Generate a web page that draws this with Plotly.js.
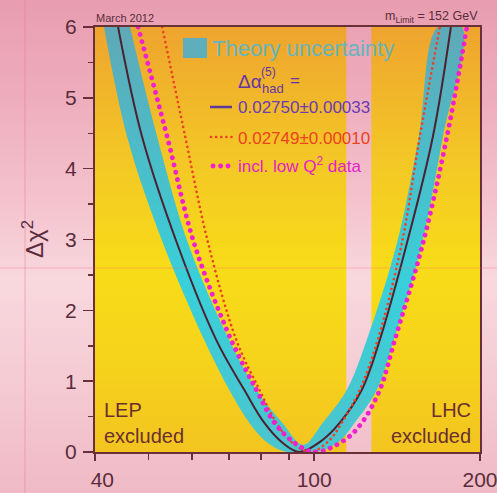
<!DOCTYPE html>
<html><head><meta charset="utf-8">
<script src="https://cdn.plot.ly/plotly-3.0.1.min.js"></script>
<style>
html,body{margin:0;padding:0;}
body{width:497px;height:493px;overflow:hidden;background:linear-gradient(to bottom,#e89db0 0%,#eeadbd 20%,#f4c4cf 42%,#f8d8de 57%,#f5ccd5 75%,#efbac6 100%);}
#chart{width:497px;height:493px;}
path[style*="stroke-dasharray"]{stroke-linecap:round;}
</style></head><body><div id="chart"></div>
<script>
// ---- data ----
const massRange = [40, 200];
const chi2Range = [0, 6];
const xTickVals = [40, 100, 200];
const xTickText = ['\u2002\u200940', '100', '200'];
const xMinorVals = [50, 60, 70, 80, 90];
const yTickVals = [0, 1, 2, 3, 4, 5, 6];

const lepExcluded = [40, 114.4];
const lhcExcluded = [127, 600];

const massSolid = [44.05, 48.70, 56.40, 66.42, 74.69, 81.21, 87.60, 94.0, 103.57, 111.23, 121.97, 131.52, 147.26, 164.22, 177.08];
const chi2Solid = [6.0, 4.45, 2.94, 1.58, 0.875, 0.41, 0.13, 0.0, 0.17, 0.41, 0.875, 1.58, 2.94, 4.45, 6.0];

const massRed = [52.97, 58.33, 64.23, 72.23, 79.56, 85.44, 91.33, 98.5, 106.66, 112.17, 120.95, 130.42, 144.2, 155.5, 169.1];
const chi2Red = [6.0, 4.45, 2.94, 1.58, 0.875, 0.41, 0.13, 0.0, 0.17, 0.41, 0.875, 1.58, 2.94, 4.45, 6.0];

const massMag = [47.89, 54.09, 60.57, 70.71, 78.56, 84.73, 92.10, 100.6, 113.59, 121.97, 131.52, 140.05, 157.48, 174.14, 189.38];
const chi2Mag = [6.0, 4.45, 2.94, 1.58, 0.875, 0.41, 0.13, 0.0, 0.17, 0.41, 0.875, 1.58, 2.94, 4.45, 6.0];

const bandOuterMass = [41.54, 45.74, 53.19, 63.16, 70.13, 76.27, 82.25, 89.08, 101.0, 110.3, 118.4, 129.88, 139.47, 156.82, 171.25, 185.45];
const bandOuterChi2 = [6.0, 4.45, 2.94, 1.58, 0.875, 0.41, 0.13, 0.0, 0.0, 0.13, 0.41, 0.875, 1.58, 2.94, 4.45, 6.0];
const bandInnerMass = [46.32, 51.87, 59.06, 70.13, 78.56, 87.60, 95.5, 103.57, 114.55, 124.56, 141.23, 154.87, 167.69];
const bandInnerChi2 = [6.0, 4.45, 2.94, 1.58, 0.875, 0.41, 0.1, 0.41, 0.875, 1.58, 2.94, 4.45, 6.0];

// ---- build ----
const axisCol = '#6a3038';
const textCol = '#5b2d3c';
const FONT = 'Liberation Sans, Arial, sans-serif';

const yellowGrad = {type: 'vertical', colorscale: [[0, '#f3c420'], [0.2, '#f6d21c'], [0.43, '#f8dc18'], [0.7, '#f3c626'], [1, '#eea42f']]};
const bandGrad = {type: 'vertical', colorscale: [[0, '#4cc4cd'], [0.4, '#38d0da'], [0.7, '#4cbcc8'], [1, '#60a8b6']]};

function rect(r) {
  return {x: [r[0], r[1], r[1], r[0]], y: [chi2Range[0], chi2Range[0], chi2Range[1], chi2Range[1]],
    type: 'scatter', mode: 'lines', fill: 'toself', fillgradient: yellowGrad,
    line: {width: 0}, hoverinfo: 'skip', showlegend: false};
}

const traces = [
  rect(lepExcluded),
  rect(lhcExcluded),
  {x: bandOuterMass.concat(bandInnerMass.slice().reverse()),
   y: bandOuterChi2.concat(bandInnerChi2.slice().reverse()),
   type: 'scatter', mode: 'lines', fill: 'toself', fillgradient: bandGrad,
   line: {width: 0, shape: 'spline', smoothing: 1}, hoverinfo: 'skip', showlegend: false},
  {x: massSolid, y: chi2Solid, type: 'scatter', mode: 'lines',
   line: {color: '#4a2232', width: 2, shape: 'spline', smoothing: 1}, showlegend: false},
  {x: massRed, y: chi2Red, type: 'scatter', mode: 'lines',
   line: {color: '#ee4020', width: 2.6, dash: '0.1px,5px', shape: 'spline', smoothing: 1}, showlegend: false},
  {x: massMag, y: chi2Mag, type: 'scatter', mode: 'lines',
   line: {color: '#f020d0', width: 4.8, dash: '0.1px,7.4px', shape: 'spline', smoothing: 1}, showlegend: false}
];

// pixel helpers for paper coords (plot area 95..480 x 27..452)
const px = v => (v - 95) / 385;
const py = v => (452 - v) / 425;

function ann(text, x, y, size, color, extra) {
  return Object.assign({text: text, x: x, y: y, xref: 'paper', yref: 'paper', showarrow: false,
    xanchor: 'left', yanchor: 'middle', font: {family: FONT, size: size, color: color}}, extra || {});
}

const annotations = [
  ann('Theory uncertainty', px(210), py(48), 22, '#66b4bf'),
  ann('Δα', px(236), py(81), 19, '#6535a8'),
  ann('(5)', px(259), py(72), 12, '#6535a8'),
  ann('had', px(260), py(88), 13, '#6535a8'),
  ann('=', px(288), py(80), 17, '#6535a8'),
  ann('0.02750±0.00033', px(236), py(108), 17, '#6a3cb0'),
  ann('0.02749±0.00010', px(236), py(138), 17, '#ec4220'),
  ann('incl. low Q<sup>2</sup> data', px(236), py(165), 17, '#e422c8'),
  ann('March 2012', px(94), py(18), 11, textCol),
  ann('m<sub>Limit</sub> = 152 GeV', 1, py(17), 12.5, textCol, {xanchor: 'right'}),
  ann('Δχ<sup>2</sup>', px(33), py(239), 24, textCol, {xanchor: 'center', textangle: -90}),
  ann('LEP<br>excluded', px(102), py(449), 20, '#6a3030', {yanchor: 'bottom', align: 'left'}),
  ann('LHC<br>excluded', px(473), py(449), 20, '#6a3030', {xanchor: 'right', yanchor: 'bottom', align: 'right'})
];

const shapes = [
  {type: 'rect', xref: 'paper', yref: 'paper', x0: px(183), x1: px(207), y0: py(58), y1: py(38),
   fillcolor: '#5eaebb', line: {width: 0}},
  {type: 'line', xref: 'paper', yref: 'paper', x0: px(210), x1: px(232), y0: py(107), y1: py(107),
   line: {color: '#5b3a9c', width: 2.5}},
  {type: 'line', xref: 'paper', yref: 'paper', x0: px(211), x1: px(232), y0: py(137), y1: py(137),
   line: {color: '#ee4020', width: 2.6, dash: '0.1px,5px'}},
  {type: 'line', xref: 'paper', yref: 'paper', x0: px(213), x1: px(232), y0: py(166), y1: py(166),
   line: {color: '#f020d0', width: 4.8, dash: '0.1px,7.4px'}},
  {type: 'line', xref: 'paper', yref: 'paper', x0: px(25), x1: px(25), y0: py(500), y1: py(-5),
   line: {color: 'rgba(236,110,130,0.45)', width: 1}, layer: 'above'},
  {type: 'line', xref: 'paper', yref: 'paper', x0: px(-5), x1: px(500), y0: py(268), y1: py(268),
   line: {color: 'rgba(236,110,130,0.35)', width: 1}, layer: 'above'}
];

const layout = {
  width: 497, height: 493,
  margin: {l: 95, r: 17, t: 27, b: 41},
  paper_bgcolor: 'rgba(0,0,0,0)', plot_bgcolor: 'rgba(0,0,0,0)',
  showlegend: false,
  font: {family: FONT, color: textCol},
  xaxis: {type: 'log', range: [Math.log10(massRange[0]) - 1e-6, Math.log10(massRange[1]) + 1e-6],
    tickmode: 'array', tickvals: xTickVals, ticktext: xTickText,
    ticks: 'outside', ticklen: 7, tickwidth: 1.5, tickcolor: axisCol,
    showline: true, linecolor: axisCol, linewidth: 2, mirror: true,
    showgrid: false, zeroline: false, ticklabelstandoff: 1, ticklabeloverflow: 'allow',
    tickfont: {family: FONT, size: 21, color: textCol},
    minor: {tickmode: 'array', tickvals: xMinorVals, ticks: 'outside', ticklen: 6, tickwidth: 1.5, tickcolor: axisCol, showgrid: false}},
  yaxis: {range: chi2Range, tickmode: 'array', tickvals: yTickVals,
    ticks: 'outside', ticklen: 10, tickwidth: 1.5, tickcolor: axisCol,
    showline: true, linecolor: axisCol, linewidth: 2, mirror: true,
    showgrid: false, zeroline: false, ticklabelstandoff: 2,
    tickfont: {family: FONT, size: 21, color: textCol},
    minor: {dtick: 0.5, tick0: 0, ticks: 'outside', ticklen: 5, tickwidth: 1.5, tickcolor: axisCol, showgrid: false}},
  annotations: annotations,
  shapes: shapes
};

Plotly.newPlot('chart', traces, layout, {staticPlot: true, displayModeBar: false});
</script></body></html>
